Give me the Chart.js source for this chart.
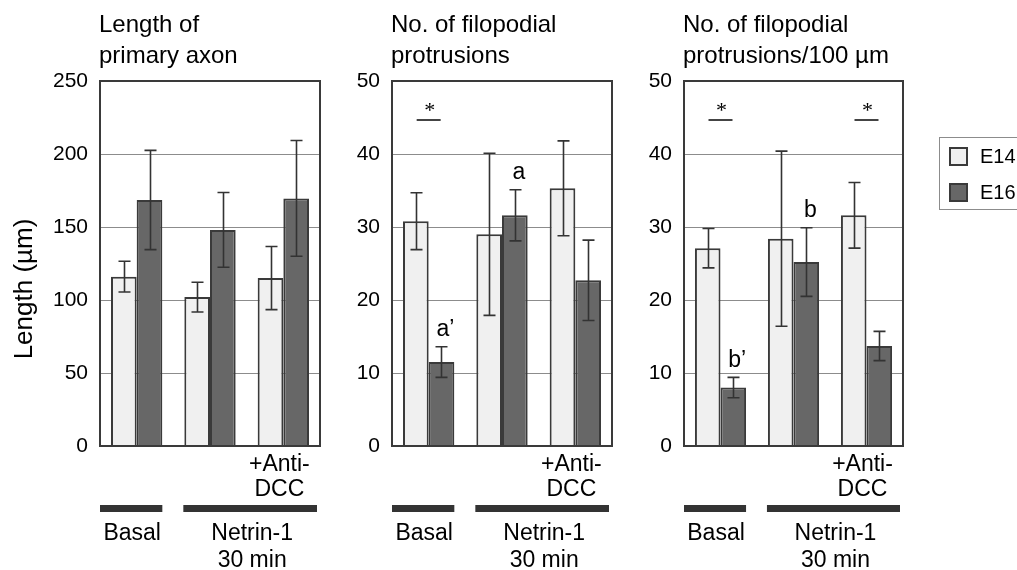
<!DOCTYPE html>
<html>
<head>
<meta charset="utf-8">
<script src="https://cdn.jsdelivr.net/npm/chart.js@4.4.1/dist/chart.umd.min.js"></script>
<style>
  html, body { margin:0; padding:0; background:#fff; }
  #wrap { position:relative; width:1017px; height:570px; overflow:hidden; background:#fff; }
  canvas { position:absolute; top:0; }
</style>
</head>
<body>
<div id="wrap">
  <canvas id="c1" width="330" height="570" style="left:0px"></canvas>
  <canvas id="c2" width="292" height="570" style="left:330px"></canvas>
  <canvas id="c3" width="395" height="570" style="left:622px"></canvas>
</div>
<script>
// ---------------- data ----------------
const categories = ['Basal', 'Netrin-1 30 min', 'Netrin-1 30 min +Anti-DCC'];
const seriesNames = ['E14', 'E16'];

// Length of primary axon (µm)
const axonE14 = [116, 102, 115];
const axonE14Err = [10.5, 10.2, 21.6];
const axonE16 = [168.5, 148, 169.6];
const axonE16Err = [34, 25.6, 39.6];

// No. of filopodial protrusions
const filoE14 = [30.8, 29.0, 35.3];
const filoE14Err = [3.9, 11.1, 6.5];
const filoE16 = [11.5, 31.6, 22.7];
const filoE16Err = [2.1, 3.5, 5.5];

// No. of filopodial protrusions / 100 µm
const densE14 = [27.1, 28.4, 31.6];
const densE14Err = [2.7, 12.0, 4.5];
const densE16 = [8.0, 25.2, 13.7];
const densE16Err = [1.4, 4.7, 2.0];

// axis ticks
const axonMax = 250, axonStep = 50;
const filoMax = 50, filoStep = 10;

// annotations (group index, series index, text)
const filoLetters = [{group:0, series:1, text:'a\u2019'}, {group:1, series:1, text:'a'}];
const densLetters = [{group:0, series:1, text:'b\u2019'}, {group:1, series:1, text:'b'}];
const filoStars = [0];
const densStars = [0, 2];
const sigLevel = 44.6;

// texts
const titleAxon = ['Length of', 'primary axon'];
const titleFilo = ['No. of filopodial', 'protrusions'];
const titleDens = ['No. of filopodial', 'protrusions/100 \u00b5m'];
const yTitle = 'Length (\u00b5m)';
const basalLabel = ['Basal'];
const netrinLabel = ['Netrin-1', '30 min'];
const antiLabel = ['+Anti-', 'DCC'];

// ---------------- drawing ----------------
const FONT = "'Liberation Sans', Arial, Helvetica, sans-serif";
const SERIF = "'Liberation Serif', 'Times New Roman', serif";
const DARK = '#3a3a3a';
const colE14 = '#f0f0f0';
const colE16 = '#676767';

const decor = {
  id: 'decor',
  afterDatasetsDraw(chart, args, opts) {
    const ctx = chart.ctx;
    const a = chart.chartArea;
    const y = chart.scales.y;
    const m0 = chart.getDatasetMeta(0), m1 = chart.getDatasetMeta(1);
    ctx.save();

    // error bars
    chart.data.datasets.forEach((ds, i) => {
      const meta = chart.getDatasetMeta(i);
      meta.data.forEach((el, j) => {
        const v = ds.data[j], e = ds.errors[j];
        const yt = y.getPixelForValue(v + e), yb = y.getPixelForValue(v - e);
        const x = Math.round(el.x) + 0.5;
        ctx.strokeStyle = '#333';
        ctx.lineWidth = 1.6;
        ctx.beginPath();
        ctx.moveTo(x, yt); ctx.lineTo(x, yb);
        ctx.moveTo(x - 6, yt); ctx.lineTo(x + 6, yt);
        ctx.moveTo(x - 6, yb); ctx.lineTo(x + 6, yb);
        ctx.stroke();
      });
    });

    // frame
    ctx.strokeStyle = DARK;
    ctx.lineWidth = 2;
    ctx.strokeRect(a.left, a.top, a.right - a.left, a.bottom - a.top);

    // titles
    ctx.fillStyle = '#000';
    ctx.font = '24px ' + FONT;
    ctx.textAlign = 'left';
    ctx.textBaseline = 'alphabetic';
    opts.title.forEach((t, k) => ctx.fillText(t, a.left - 1, 32 + k * 31));

    // letters above error bars
    ctx.font = '23px ' + FONT;
    ctx.textAlign = 'center';
    ctx.textBaseline = 'middle';
    (opts.letters || []).forEach(L => {
      const ds = chart.data.datasets[L.series];
      const el = chart.getDatasetMeta(L.series).data[L.group];
      const yt = y.getPixelForValue(ds.data[L.group] + ds.errors[L.group]);
      ctx.fillText(L.text, el.x + 4, yt - 17);
    });

    // significance stars
    (opts.stars || []).forEach(g => {
      const cx = (m0.data[g].x + m1.data[g].x) / 2;
      const ly = Math.round(y.getPixelForValue(sigLevel));
      ctx.strokeStyle = '#444';
      ctx.lineWidth = 2;
      ctx.beginPath();
      ctx.moveTo(cx - 12, ly); ctx.lineTo(cx + 12, ly);
      ctx.stroke();
      ctx.font = '22px ' + SERIF;
      ctx.textBaseline = 'alphabetic';
      ctx.textAlign = 'center';
      ctx.fillText('*', cx + 1, ly - 3);
    });

    // bottom treatment bars
    const bw = m0.data[0].width;
    ctx.fillStyle = '#333';
    const bx0 = a.left, bx1 = m1.data[0].x + bw / 2;
    const nx0 = m0.data[1].x - bw / 2 - 1, nx1 = a.right - 3;
    ctx.fillRect(bx0, 505, bx1 - bx0, 7);
    ctx.fillRect(nx0, 505, nx1 - nx0, 7);

    ctx.fillStyle = '#000';
    ctx.font = '23px ' + FONT;
    ctx.textAlign = 'center';
    ctx.textBaseline = 'alphabetic';
    const g3 = (m0.data[2].x + m1.data[2].x) / 2 - 4;
    antiLabel.forEach((t, k) => ctx.fillText(t, g3, 471 + k * 24.5));
    basalLabel.forEach((t, k) => ctx.fillText(t, (bx0 + bx1) / 2 + 1, 540 + k * 27));
    netrinLabel.forEach((t, k) => ctx.fillText(t, (nx0 + nx1) / 2 + 2, 540 + k * 27));

    // y axis title
    if (opts.yTitle) {
      ctx.save();
      ctx.translate(32, 289);
      ctx.rotate(-Math.PI / 2);
      ctx.font = '26px ' + FONT;
      ctx.textAlign = 'center';
      ctx.textBaseline = 'alphabetic';
      ctx.fillText(opts.yTitle, 0, 0);
      ctx.restore();
    }

    // legend
    if (opts.legend) {
      const lx = 939 - 622;
      ctx.strokeStyle = '#8c8c8c';
      ctx.lineWidth = 1;
      ctx.strokeRect(lx + 0.5, 137.5, 200, 72);
      chart.data.datasets.forEach((ds, i) => {
        const sy = 147 + i * 36;
        ctx.fillStyle = ds.backgroundColor;
        ctx.fillRect(lx + 11, sy + 1, 17, 17);
        ctx.strokeStyle = DARK;
        ctx.lineWidth = 2;
        ctx.strokeRect(lx + 11, sy + 1, 17, 17);
        ctx.fillStyle = '#000';
        ctx.font = '20px ' + FONT;
        ctx.textAlign = 'left';
        ctx.textBaseline = 'middle';
        ctx.fillText(ds.label, lx + 41, sy + 10);
      });
    }
    ctx.restore();
  }
};

function makePanel(id, e14, e14err, e16, e16err, max, step, yW, padR, deco) {
  return new Chart(document.getElementById(id), {
    type: 'bar',
    data: {
      labels: categories,
      datasets: [
        { label: seriesNames[0], data: e14, errors: e14err, backgroundColor: colE14,
          borderColor: DARK, borderWidth: 2, borderSkipped: 'start' },
        { label: seriesNames[1], data: e16, errors: e16err, backgroundColor: colE16,
          borderColor: DARK, borderWidth: 2, borderSkipped: 'start' }
      ]
    },
    options: {
      responsive: false,
      animation: false,
      devicePixelRatio: 1,
      categoryPercentage: 0.7,
      barPercentage: 1.0,
      layout: { padding: { left: 0, right: padR, top: 81, bottom: 124 } },
      plugins: { legend: { display: false }, tooltip: { enabled: false }, decor: deco },
      scales: {
        x: {
          ticks: { display: false },
          grid: { display: false },
          border: { display: false },
          afterFit(s) { s.height = 0; }
        },
        y: {
          min: 0, max: max,
          ticks: { stepSize: step, color: '#000', padding: 12, font: { size: 21, family: FONT } },
          grid: { color: '#8c8c8c', lineWidth: 1, drawTicks: false },
          border: { display: false },
          afterFit(s) { s.width = yW; }
        }
      }
    },
    plugins: [decor]
  });
}

makePanel('c1', axonE14, axonE14Err, axonE16, axonE16Err, axonMax, axonStep, 100, 10,
  { title: titleAxon, yTitle: yTitle });
makePanel('c2', filoE14, filoE14Err, filoE16, filoE16Err, filoMax, filoStep, 62, 10,
  { title: titleFilo, letters: filoLetters, stars: filoStars });
makePanel('c3', densE14, densE14Err, densE16, densE16Err, filoMax, filoStep, 62, 114,
  { title: titleDens, letters: densLetters, stars: densStars, legend: true });
</script>
</body>
</html>
